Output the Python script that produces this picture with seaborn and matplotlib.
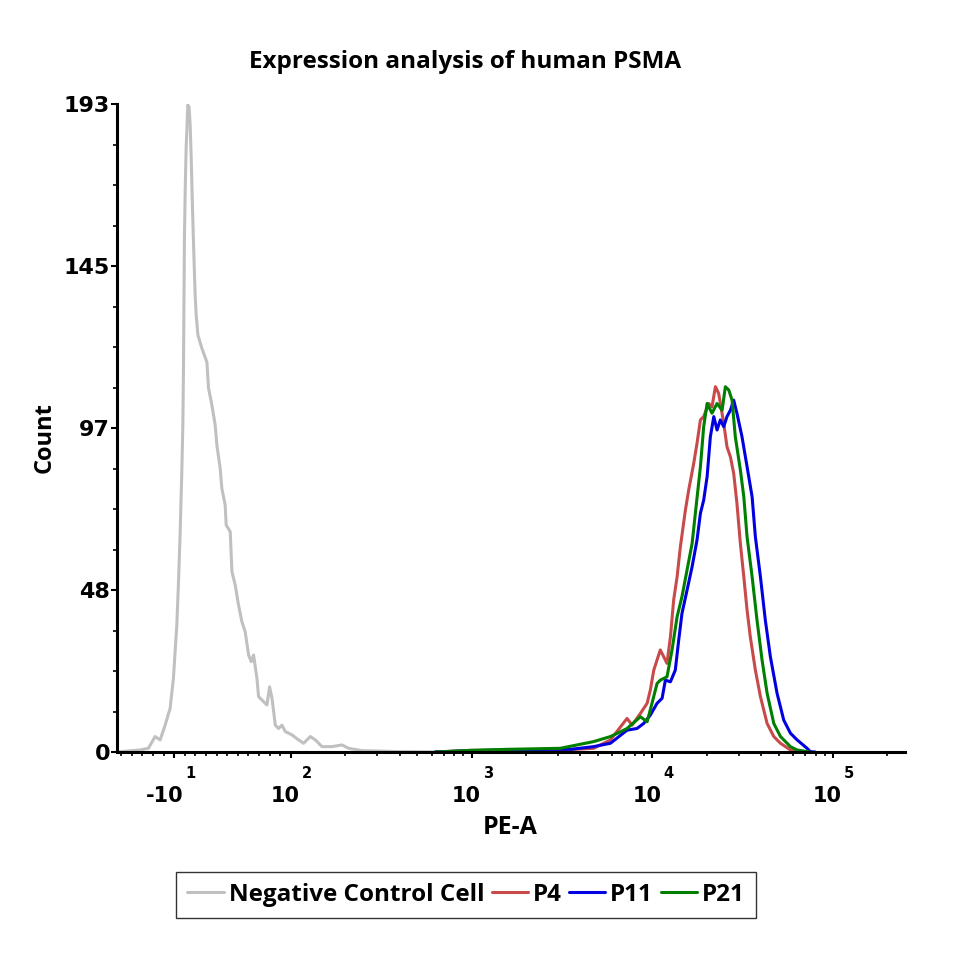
import numpy as np
import pandas as pd
import matplotlib
matplotlib.use("Agg")
import matplotlib.pyplot as plt
import seaborn as sns
from matplotlib.ticker import FixedLocator, NullFormatter
from matplotlib.lines import Line2D

# ---------------- data ----------------
title = "Expression analysis of human PSMA"
x_label = "PE-A"
y_label = "Count"
series_names = ["Negative Control Cell", "P4", "P11", "P21"]
series_colors = ["#c0c0c0", "#c84a4a", "#0000e0", "#007f00"]

neg_pe = [-64, -53.6, -42.2, -34.4, -28.1, -23.3, -18.6, -13.9, -10.8, -9.2,
          -7.6, -6.1, -4.5, -2.8, -1.9, -1.3, -0.4, 0.3, 1.2, 2.8,
          4.0, 5.0, 5.9, 7.2, 8.5, 9.7, 10.7, 12.3, 16.0, 20.8,
          22.3, 25.5, 28.6, 30.2, 33.3, 34.9, 38.0, 39.0, 42.8, 44.4,
          47.5, 50.6, 53.8, 56.9, 60.1, 62.6, 64.8, 68.0, 69.5, 74.2,
          77.4, 79.9, 82.2, 85.3, 88.4, 91.6, 94.7, 101.4, 110.3, 117.6,
          128.1, 136.5, 148.6, 168.8, 191.8, 208.6, 247.5, 300, 403, 762]
neg_count = [0, 0.3, 0.6, 1.1, 4.6, 3.6, 8.0, 13.0, 21.9, 29.9,
             37.8, 49.7, 64.6, 84.5, 97.4, 114.4, 153.1, 166.8, 179.8, 192.7,
             192.0, 186.7, 177.8, 162.0, 148.0, 136.1, 130.1, 124.2, 120.3, 116.1,
             108.4, 103.3, 97.4, 91.4, 84.5, 78.5, 73.6, 67.6, 65.6, 53.7,
             49.7, 43.8, 38.8, 35.8, 28.9, 26.9, 28.9, 21.9, 16.5, 15.0,
             14.0, 19.4, 16.0, 8.0, 7.0, 8.0, 6.1, 5.1, 3.6, 2.6,
             4.6, 3.6, 1.6, 1.6, 2.1, 1.1, 0.4, 0.3, 0.1, 0]

p4_log10_pe = [2.80, 3.00, 3.20, 3.40, 3.491, 3.675, 3.768, 3.860, 3.888, 3.934,
               3.971, 3.989, 4.008, 4.044, 4.081, 4.100, 4.118, 4.137, 4.155, 4.183,
               4.201, 4.229, 4.247, 4.266, 4.284, 4.312, 4.330, 4.349, 4.367, 4.395,
               4.413, 4.432, 4.450, 4.468, 4.487, 4.506, 4.524, 4.542, 4.570, 4.598,
               4.635, 4.672, 4.709, 4.764, 4.850]
p4_count = [0, 0.5, 0.5, 0.8, 0.6, 1.1, 3.6, 10.0, 8.0, 11.5,
            14.5, 18.5, 24.4, 30.4, 26.4, 34.3, 45.3, 52.2, 61.1, 72.1,
            78.0, 86.0, 91.9, 98.9, 99.9, 103.8, 102.8, 108.8, 106.8, 97.9,
            90.9, 87.9, 83.0, 74.1, 62.1, 52.2, 42.3, 34.3, 24.4, 16.5,
            8.5, 4.6, 2.6, 0.6, 0]

p11_log10_pe = [2.80, 3.00, 3.20, 3.45, 3.55, 3.675, 3.768, 3.860, 3.915, 3.952,
                3.989, 4.026, 4.054, 4.072, 4.100, 4.127, 4.146, 4.164, 4.192, 4.220,
                4.247, 4.266, 4.284, 4.303, 4.321, 4.340, 4.358, 4.376, 4.395, 4.413,
                4.432, 4.450, 4.468, 4.496, 4.524, 4.552, 4.570, 4.598, 4.625, 4.653,
                4.690, 4.727, 4.764, 4.801, 4.856, 4.874, 4.900]
p11_count = [0, 0.4, 0.6, 0.8, 0.8, 1.6, 2.6, 6.5, 7.0, 8.5,
             11.0, 14.5, 16.0, 21.4, 20.9, 24.4, 33.4, 41.3, 48.2, 55.2,
             63.1, 71.1, 75.0, 82.0, 93.9, 99.9, 95.9, 98.9, 96.9, 99.9,
             101.8, 104.8, 100.9, 93.9, 85.0, 76.0, 64.1, 52.2, 39.3, 28.4,
             17.5, 9.5, 5.6, 3.6, 1.1, 0.1, 0]

p21_log10_pe = [2.80, 3.00, 3.20, 3.40, 3.491, 3.675, 3.768, 3.823, 3.860, 3.934,
                3.971, 3.998, 4.026, 4.044, 4.081, 4.109, 4.137, 4.164, 4.192, 4.220,
                4.238, 4.266, 4.284, 4.303, 4.330, 4.358, 4.386, 4.404, 4.423, 4.441,
                4.459, 4.487, 4.506, 4.524, 4.552, 4.579, 4.607, 4.635, 4.672, 4.709,
                4.764, 4.801, 4.870]
p21_count = [0, 0.5, 0.8, 1.0, 1.1, 3.1, 4.6, 6.0, 7.0, 10.5,
             9.0, 14.5, 20.4, 21.4, 22.4, 30.4, 40.3, 46.3, 54.2, 62.1,
             71.1, 85.0, 96.9, 103.8, 100.9, 103.8, 101.8, 108.8, 107.8, 104.8,
             93.9, 84.0, 76.0, 64.1, 52.2, 39.3, 27.4, 17.5, 8.5, 4.6,
             1.6, 0.6, 0]

x_tick_values = [-10, 1e2, 1e3, 1e4, 1e5]
x_tick_bases = ["-10", "10", "10", "10", "10"]
x_tick_exps = ["1", "2", "3", "4", "5"]
y_max = 193
y_tick_labels = ["0", "48", "97", "145", "193"]

# ---------------- build long table ----------------
frames = []
for name, pe, cnt in [
    (series_names[0], np.array(neg_pe, dtype=float), neg_count),
    (series_names[1], 10 ** np.array(p4_log10_pe), p4_count),
    (series_names[2], 10 ** np.array(p11_log10_pe), p11_count),
    (series_names[3], 10 ** np.array(p21_log10_pe), p21_count),
]:
    frames.append(pd.DataFrame({"PE-A": pe, "Count": cnt, "Sample": name}))
df = pd.concat(frames, ignore_index=True)

# ---------------- style ----------------
sns.set_style("ticks")
plt.rcParams["font.family"] = ["Open Sans", "DejaVu Sans"]
for key in ["text.color", "axes.labelcolor", "xtick.color", "ytick.color", "axes.edgecolor"]:
    plt.rcParams[key] = "black"

fig = plt.figure(figsize=(9.6, 9.6), dpi=100)
ax = fig.add_axes([117 / 960, 208 / 960, 788 / 960, 648 / 960])

palette = dict(zip(series_names, series_colors))
sns.lineplot(data=df, x="PE-A", y="Count", hue="Sample", hue_order=series_names,
             palette=palette, sort=False, estimator=None, linewidth=2.2,
             ax=ax, legend=False)

ax.set_xscale("symlog", linthresh=100, linscale=0.528)
ax.set_xlim(-64, 2.5e5)
ax.set_ylim(0, y_max)

# x ticks
ax.xaxis.set_major_locator(FixedLocator(x_tick_values))
ax.xaxis.set_major_formatter(NullFormatter())
minor_x = [v for v in range(-60, 100, 10) if v != -10] + \
          [m * 10 ** k for k in (2, 3, 4) for m in range(2, 10)] + [2e5]
ax.xaxis.set_minor_locator(FixedLocator(minor_x))
ax.xaxis.set_minor_formatter(NullFormatter())

for v, base, ex in zip(x_tick_values, x_tick_bases, x_tick_exps):
    ax.annotate(base, xy=(v, 0), xycoords=("data", "axes fraction"),
                xytext=(9, -44), textcoords="offset pixels", ha="right", va="center",
                fontsize=15, fontweight="bold", family=["DejaVu Sans"],
                annotation_clip=False)
    ax.annotate(ex, xy=(v, 0), xycoords=("data", "axes fraction"),
                xytext=(11, -21), textcoords="offset pixels", ha="left", va="center",
                fontsize=10.5, fontweight="bold", family=["DejaVu Sans"],
                annotation_clip=False)

# y ticks
y_major = np.linspace(0, y_max, 5)
ax.yaxis.set_major_locator(FixedLocator(y_major))
ax.set_yticklabels(y_tick_labels, fontsize=16, fontweight="bold",
                   family=["DejaVu Sans"])
ax.yaxis.set_minor_locator(FixedLocator([v for v in np.linspace(0, y_max, 17)
                                         if not np.any(np.isclose(v, y_major))]))

ax.tick_params(axis="both", which="major", direction="out", length=4, width=1.5,
               color="black", pad=1, labelcolor="black")
ax.tick_params(axis="both", which="minor", direction="out", length=3, width=1.2,
               color="black")

for side in ["top", "right"]:
    ax.spines[side].set_visible(False)
for side in ["left", "bottom"]:
    ax.spines[side].set_linewidth(2.2)
    ax.spines[side].set_color("black")

ax.set_xlabel("")
ax.set_ylabel("")

fig.text(465 / 960, 1 - 62 / 960, title, ha="center", va="center",
         fontsize=17.5, fontweight="bold", color="black")
fig.text(510 / 960, 1 - 827 / 960, x_label, ha="center", va="center",
         fontsize=18, fontweight="bold", color="black")
fig.text(45 / 960, 1 - 438 / 960, y_label, ha="center", va="center",
         rotation=90, fontsize=17, fontweight="bold", color="black")

handles = [Line2D([0], [0], color=c, lw=2.2) for c in series_colors]
leg = ax.legend(handles, series_names, loc="center",
                bbox_to_anchor=(466 / 960, 1 - 895 / 960), bbox_transform=fig.transFigure,
                ncol=4, frameon=True, fancybox=False, handlelength=1.5,
                handletextpad=0.2, columnspacing=0.3, borderpad=0.45,
                borderaxespad=0, prop={"weight": "bold", "size": 17.5})
leg.get_frame().set_edgecolor("black")
leg.get_frame().set_linewidth(1.0)
for t in leg.get_texts():
    t.set_color("black")

fig.savefig("out.png", dpi=100)
